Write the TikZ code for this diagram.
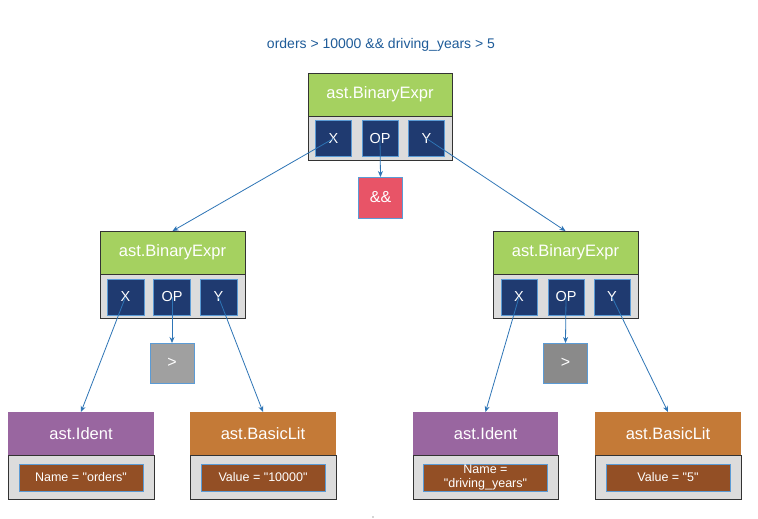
\documentclass[tikz,border=0pt]{standalone}
\usepackage{fontspec}
\setmainfont{Liberation Sans}
\usetikzlibrary{arrows.meta}
\definecolor{hgreen}{HTML}{A5D160}
\definecolor{navy}{HTML}{1F3A70}
\definecolor{lblue}{HTML}{5B9BD5}
\definecolor{bodygray}{HTML}{DCDCDC}
\definecolor{hred}{HTML}{E85467}
\definecolor{hpurple}{HTML}{9966A0}
\definecolor{horange}{HTML}{C47A37}
\definecolor{hbrown}{HTML}{934F25}
\definecolor{gleft}{HTML}{A0A0A0}
\definecolor{gright}{HTML}{8A8A8A}
\definecolor{arrc}{HTML}{2E75B6}
\definecolor{titlec}{HTML}{1F5C99}
\newcommand{\dq}{\textquotedbl}
\tikzset{
  every node/.style={inner sep=0pt, outer sep=0pt, text=white, font=\fontsize{14.5}{16}\selectfont},
  bhead/.style={draw=black!80, line width=0.8pt, fill=hgreen, minimum width=144pt, minimum height=43pt, font=\fontsize{16.5}{18}\selectfont},
  bbody/.style={draw=black!80, line width=0.8pt, fill=bodygray, minimum width=144pt, minimum height=44pt},
  field/.style={draw=lblue, line width=0.8pt, fill=navy, minimum width=36pt, minimum height=36pt},
  opbox/.style={draw=lblue, line width=0.8pt, minimum width=44pt, minimum height=41pt, font=\fontsize{16}{18}\selectfont},
  lhead/.style={minimum width=146pt, minimum height=43pt, font=\fontsize{16.5}{18}\selectfont},
  lbody/.style={draw=black!80, line width=0.8pt, fill=bodygray, minimum width=146pt, minimum height=44pt},
  inner/.style={draw=lblue, line width=0.8pt, fill=hbrown, minimum width=124pt, minimum height=27pt, align=center, font=\fontsize{12.5}{14}\selectfont},
  arr/.style={draw=arrc, line width=0.8pt, -{Stealth[length=6pt,width=5pt]}},
}
\begin{document}
\begin{tikzpicture}[x=1pt,y=-1pt]
\useasboundingbox[fill=white] (0,0) rectangle (758,519);
\node[text=titlec, font=\fontsize{14}{16}\selectfont] (title) at (381,45) {orders > 10000 \&\& driving\_years > 5};
% top binary expr
\node[bhead] (tH) at (380,94.5) {ast.BinaryExpr};
\node[bbody] (tB) at (380,138) {};
\node[field] (tX) at (333.5,138.5) {X};
\node[field] (tOP) at (380,138.5) {OP};
\node[field] (tY) at (426.5,138.5) {Y};
\node[opbox, fill=hred] (and) at (380.5,197.5) {\&\&};
% left binary expr
\node[bhead, minimum width=145pt] (lH) at (172.5,252.5) {ast.BinaryExpr};
\node[bbody, minimum width=145pt] (lB) at (172.5,296) {};
\node[field, minimum width=37pt] (lX) at (125.5,297) {X};
\node[field, minimum width=37pt] (lOP) at (172,297) {OP};
\node[field, minimum width=37pt] (lY) at (218.5,297) {Y};
\node[opbox, fill=gleft, minimum height=40pt] (lgt) at (172,363) {>};
% right binary expr
\node[bhead, minimum width=145pt] (rH) at (565.5,252.5) {ast.BinaryExpr};
\node[bbody, minimum width=145pt] (rB) at (565.5,296) {};
\node[field] (rX) at (519,297) {X};
\node[field] (rOP) at (566,297) {OP};
\node[field] (rY) at (612,297) {Y};
\node[opbox, fill=gright, minimum height=40pt] (rgt) at (565.5,363) {>};
% leaves left
\node[lhead, fill=hpurple] (liH) at (81,433.5) {ast.Ident};
\node[lbody] (liB) at (81,477) {};
\node[inner] (liV) at (81,477.5) {Name = \dq orders\dq};
\node[lhead, fill=horange] (llH) at (263,433.5) {ast.BasicLit};
\node[lbody] (llB) at (263,477) {};
\node[inner] (llV) at (263,477.5) {Value = \dq 10000\dq};
% leaves right
\node[lhead, fill=hpurple, minimum width=145pt] (riH) at (485.5,433.5) {ast.Ident};
\node[lbody, minimum width=145pt] (riB) at (485.5,477) {};
\node[inner, font=\fontsize{12.5}{14.5}\selectfont] (riV) at (485.5,477.5) {Name =\\\dq driving\_years\dq};
\node[lhead, fill=horange] (rlH) at (668,433.5) {ast.BasicLit};
\node[lbody] (rlB) at (668,477) {};
\node[inner] (rlV) at (668,477.5) {Value = \dq 5\dq};
% connectors
\draw[arr] (tX.center) -- (lH.north);
\draw[arr] (tOP.center) -- (and.north);
\draw[arr] (tY.center) -- (rH.north);
\draw[arr] (lX.center) -- (liH.north);
\draw[arr] (lOP.center) -- (lgt.north);
\draw[arr] (lY.center) -- (llH.north);
\draw[arr] (rX.center) -- (riH.north);
\draw[arr] (rOP.center) -- (rgt.north);
\draw[arr] (rY.center) -- (rlH.north);
% stray dot
\coordinate (dot) at (373,517);
\fill[black!70] (dot) circle (0.7pt);
\end{tikzpicture}
\end{document}
